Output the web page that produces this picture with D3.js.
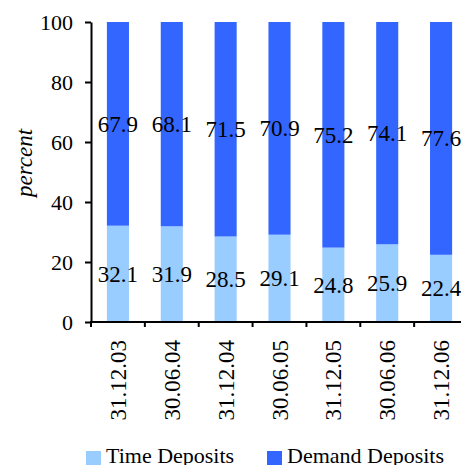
<!DOCTYPE html>
<html>
<head>
<meta charset="utf-8">
<script src="https://cdn.jsdelivr.net/npm/d3@7"></script>
<style>
	body { margin: 0; background: #fff; }
</style>
</head>
<body>
<div id="chart"></div>
<script>
const dates = ['31.12.03', '30.06.04', '31.12.04', '30.06.05', '31.12.05', '30.06.06', '31.12.06'];
const timeDeposits = [32.1, 31.9, 28.5, 29.1, 24.8, 25.9, 22.4];
const demandDeposits = [67.9, 68.1, 71.5, 70.9, 75.2, 74.1, 77.6];
const yTicks = [0, 20, 40, 60, 80, 100];
const seriesNames = ['Time Deposits', 'Demand Deposits'];
const colors = ['#99ccff', '#3366ff'];

const FONT = 'Liberation Serif';
const width = 461, height = 465;

const svg = d3.select('#chart').append('svg')
	.attr('width', width)
	.attr('height', height)
	.style('display', 'block');

const x = d3.scaleBand().domain(dates).range([91, 468]).paddingInner(0.59).paddingOuter(0.295);
const y = d3.scaleLinear().domain([0, 100]).range([322, 22]);

// stacked rows
const rows = dates.map((d, i) => ({ date: d, time: timeDeposits[i], demand: demandDeposits[i] }));
const stack = d3.stack().keys(['time', 'demand'])(rows);

const layers = svg.append('g').selectAll('g')
	.data(stack)
	.join('g')
	.attr('fill', (d, i) => colors[i]);

layers.selectAll('rect')
	.data(d => d)
	.join('rect')
	.attr('x', d => x(d.data.date))
	.attr('y', d => y(d[1]))
	.attr('width', x.bandwidth())
	.attr('height', d => y(d[0]) - y(d[1]));

// value labels, centered in each segment
layers.selectAll('text')
	.data((d, i) => d.map(v => ({ v: v, key: stack[i].key })))
	.join('text')
	.attr('x', d => x(d.v.data.date) + x.bandwidth() / 2)
	.attr('y', d => y((d.v[0] + d.v[1]) / 2))
	.attr('dy', '0.35em')
	.attr('text-anchor', 'middle')
	.attr('fill', '#000')
	.attr('font-family', FONT)
	.attr('font-size', 23)
	.text(d => d.v.data[d.key].toFixed(1));

// y axis
const yAxis = svg.append('g')
	.attr('transform', 'translate(91,0)')
	.call(d3.axisLeft(y).tickValues(yTicks).tickSize(6).tickPadding(12).tickSizeOuter(0));
yAxis.attr('font-family', FONT).attr('font-size', 22);
yAxis.select('.domain').attr('stroke', '#000').attr('stroke-width', 2);
yAxis.selectAll('.tick line').attr('stroke', '#000').attr('stroke-width', 2);
yAxis.selectAll('.tick text').attr('fill', '#000');

// x axis with ticks at band edges
const xAxisG = svg.append('g');
xAxisG.append('line')
	.attr('x1', 90).attr('x2', width)
	.attr('y1', 322).attr('y2', 322)
	.attr('stroke', '#000').attr('stroke-width', 2);

const edges = dates.map(d => x(d) - x.step() * x.paddingInner() / 2);
xAxisG.selectAll('line.tk')
	.data(edges)
	.join('line')
	.attr('class', 'tk')
	.attr('x1', d => d).attr('x2', d => d)
	.attr('y1', 322).attr('y2', 327)
	.attr('stroke', '#000').attr('stroke-width', 2);

xAxisG.selectAll('text')
	.data(dates)
	.join('text')
	.attr('transform', d => `translate(${x(d) + x.bandwidth() / 2},340) rotate(-90)`)
	.attr('dy', '0.35em')
	.attr('text-anchor', 'end')
	.attr('font-family', FONT)
	.attr('font-size', 23)
	.text(d => d);

// y axis title
svg.append('text')
	.attr('transform', 'translate(24,163) rotate(-90)')
	.attr('dy', '0.35em')
	.attr('text-anchor', 'middle')
	.attr('font-family', FONT)
	.attr('font-size', 23)
	.attr('font-style', 'italic')
	.text('percent');

// legend
const legendX = [86, 267];
const legend = svg.append('g').selectAll('g')
	.data(seriesNames)
	.join('g')
	.attr('transform', (d, i) => `translate(${legendX[i]},451)`);
legend.append('rect')
	.attr('width', 15).attr('height', 15)
	.attr('fill', (d, i) => colors[i]);
legend.append('text')
	.attr('x', 20)
	.attr('y', 12)
	.attr('font-family', FONT)
	.attr('font-size', 22)
	.text(d => d);
</script>
</body>
</html>
